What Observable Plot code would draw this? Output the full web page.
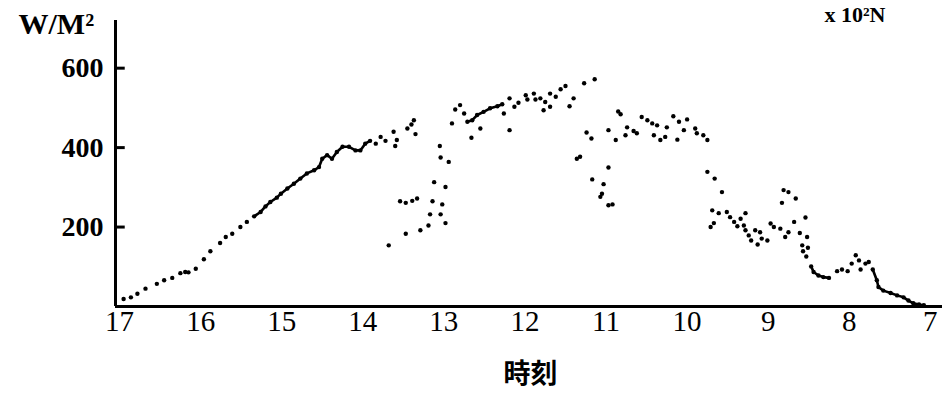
<!DOCTYPE html>
<html><head><meta charset="utf-8">
<script src="https://cdn.jsdelivr.net/npm/d3@7"></script>
<script src="https://cdn.jsdelivr.net/npm/@observablehq/plot@0.6"></script>
<style>body{margin:0;background:#fff} #chart svg{display:block}</style>
</head><body><div id="chart"></div>
<script>
// Tick labels
const xTicks = [17, 16, 15, 14, 13, 12, 11, 10, 9, 8, 7];
const yTicks = [200, 400, 600];
const yUnit = "W/M²";
const xTitle = "時刻";
const topRightNote = "x 10²N";

// Scattered readings (hour, W/m²)
const dotHours = [
  16.95,16.86,16.78,16.68,16.54,16.45,16.35,16.25,16.19,16.15,16.06,15.96,15.88,15.76,15.69,15.61,15.51,15.43,
  15.34,15.26,15.20,15.14,15.06,15.01,14.93,14.85,14.77,14.69,14.60,14.54,14.50,14.44,14.38,14.32,14.25,14.17,14.09,14.03,13.97,13.91,
  13.84,13.78,13.72,13.62,13.58,13.60,13.45,13.40,13.37,13.35,
  13.68,13.47,13.29,13.19,12.98,13.17,13.04,13.54,13.47,13.39,13.33,13.14,13.02,13.12,12.98,12.94,13.04,13.05,12.90,
  12.86,12.80,12.75,12.71,12.65,12.66,12.55,12.59,12.51,12.43,12.34,12.28,12.26,12.19,12.13,12.08,12.19,11.99,11.97,11.89,11.87,11.81,11.75,11.77,11.69,11.69,11.62,11.56,11.50,11.40,11.45,11.27,11.14,
  11.24,11.18,11.36,11.32,11.17,11.03,11.05,11.07,10.97,10.92,10.97,
  10.85,10.82,10.97,10.88,10.76,10.74,10.66,10.62,10.56,10.49,10.43,10.37,10.41,10.33,10.27,10.25,10.17,10.10,10.00,10.04,10.12,9.90,9.88,9.80,9.75,
  9.75,9.66,9.57,9.69,9.61,9.67,9.71,9.51,9.47,9.42,9.38,9.34,9.28,9.30,9.28,9.24,9.21,9.13,9.16,9.10,9.08,9.01,8.97,8.93,8.85,8.81,8.75,8.66,8.83,8.75,8.79,8.68,8.54,8.61,8.52,8.58,8.51,8.57,8.53,
  8.47,8.44,8.38,8.32,8.25,8.15,8.09,8.02,7.97,7.92,7.88,7.86,7.80,7.76,7.71,7.66,7.64,7.58,7.49,7.41,7.33,7.27,7.21,7.14,7.08
];
const dotWatts = [
  19,23,32,45,57,66,72,84,87,86,95,119,139,160,175,183,200,213,
  227,238,252,263,274,284,297,309,322,335,343,351,372,381,372,389,402,402,393,393,410,417,
  410,427,417,440,419,404,448,458,469,434,
  154,183,192,204,210,232,232,265,261,266,272,265,257,313,301,364,375,404,461,
  496,507,486,465,469,425,448,482,490,499,504,509,486,524,503,513,444,532,521,536,521,524,515,494,503,536,528,547,555,524,504,562,572,
  438,423,372,377,320,308,284,276,255,257,350,
  491,484,444,419,431,451,442,436,477,469,461,456,431,419,427,451,479,465,471,444,420,448,436,431,419,
  339,322,288,242,235,210,200,238,225,213,202,221,235,204,192,179,166,156,192,187,171,166,209,200,196,293,288,272,261,187,175,213,224,185,175,154,148,139,126,
  101,87,78,74,72,89,93,89,108,129,116,93,108,112,93,66,49,40,34,28,23,15,8,5,3
];

// Densely recorded stretches that print as continuous traces
const traceIds   = ["a","a","a","a","a","a","a","a","a","a","a","a","a","a","a","a","a","a","a","a","a","a",
                    "d","d","d","d","d","d","d",
                    "b","b","b","b","b",
                    "c","c","c","c","c","c","c","c","c","c","c"];
const traceHours = [15.34,15.26,15.20,15.14,15.06,15.01,14.93,14.85,14.77,14.69,14.60,14.54,14.50,14.44,14.38,14.32,14.25,14.17,14.09,14.03,13.97,13.91,
                    12.71,12.65,12.59,12.51,12.43,12.34,12.28,
                    8.47,8.44,8.38,8.32,8.25,
                    7.71,7.66,7.64,7.58,7.49,7.41,7.33,7.27,7.21,7.14,7.08];
const traceWatts = [227,238,252,263,274,284,297,309,322,335,343,351,372,381,372,389,402,402,393,393,410,417,
                    465,469,482,490,499,504,509,
                    101,87,78,74,72,
                    93,66,49,40,34,28,23,15,8,5,3];

const dots = dotHours.map((h, i) => ({h, w: dotWatts[i]}));
const traces = traceHours.map((h, i) => ({h, w: traceWatts[i], id: traceIds[i]}));

const serif = "'Liberation Serif', 'DejaVu Serif', serif";
const xStart = 17.05;
const tickEnd = 16.93;

const chart = Plot.plot({
  width: 942,
  height: 394,
  marginTop: 20,
  marginBottom: 88,
  marginLeft: 115,
  marginRight: 0,
  style: {fontFamily: serif, background: "white", color: "black"},
  x: {domain: [xStart, 6.85]},
  y: {domain: [0, 720]},
  marks: [
    Plot.ruleY([0], {strokeWidth: 3, stroke: "black"}),
    Plot.ruleX([xStart], {strokeWidth: 3, stroke: "black"}),
    Plot.ruleY(yTicks, {y: d => d, x1: xStart, x2: tickEnd, strokeWidth: 3, stroke: "black"}),
    Plot.axisX({ticks: xTicks, tickSize: 0, tickPadding: 4, fontSize: 29, tickFormat: d => String(d), label: null, fontFamily: serif}),
    Plot.axisY({ticks: yTicks, tickSize: 0, tickPadding: 12, fontSize: 28, fontWeight: "bold", label: null, fontFamily: serif}),
    Plot.line(traces, {x: "h", y: "w", z: "id", stroke: "black", strokeWidth: 2.6}),
    Plot.dot(dots, {x: "h", y: "w", r: 2.2, fill: "black"}),
    Plot.text([yUnit], {text: d => d, frameAnchor: "top-left", dx: -97, dy: 13, textAnchor: "start", lineAnchor: "bottom", fontSize: 30, fontWeight: "bold", fontFamily: serif}),
    Plot.text([xTitle], {text: d => d, frameAnchor: "bottom", dx: 1.5, dy: 76, lineAnchor: "bottom", fontSize: 27, fontWeight: "bold", fontFamily: "'Noto Sans CJK JP', sans-serif"}),
    Plot.text([topRightNote], {text: d => d, frameAnchor: "top-right", dx: -118, dy: 1, textAnchor: "start", lineAnchor: "bottom", fontSize: 22, fontWeight: "bold", fontFamily: serif})
  ]
});
document.getElementById("chart").appendChild(chart);
</script>
</body></html>
